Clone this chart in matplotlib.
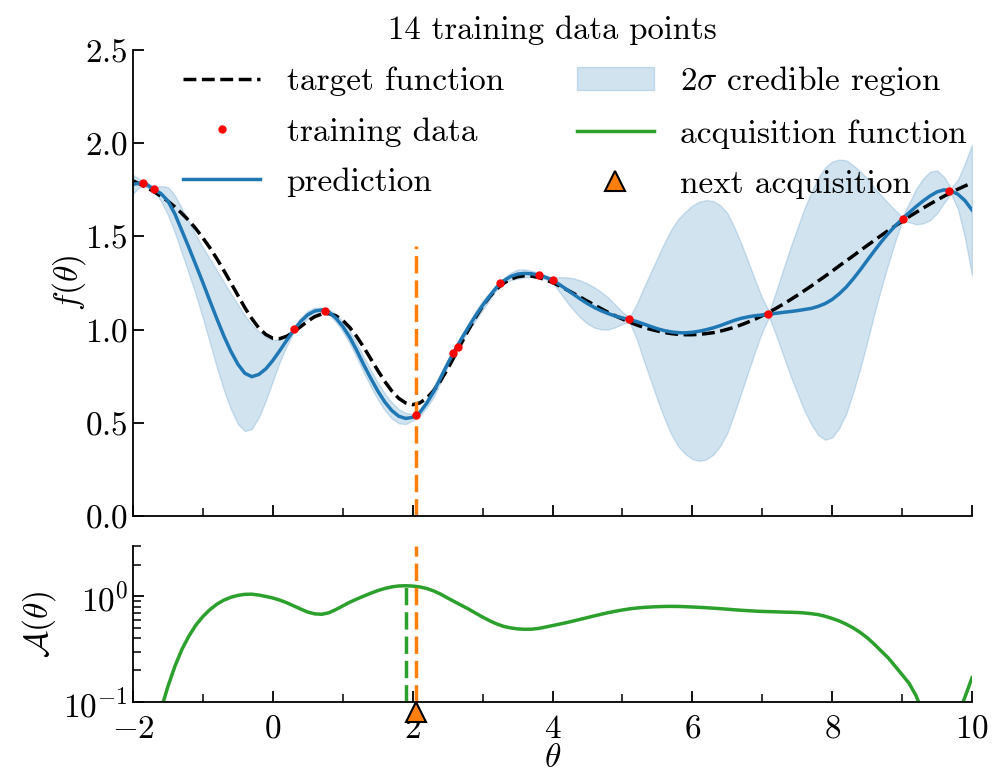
import numpy as np
import matplotlib
matplotlib.use("Agg")
from matplotlib import pyplot as plt
from matplotlib import transforms
from matplotlib.ticker import MultipleLocator, NullFormatter

# grid on which the GP posterior and the acquisition were evaluated
theta = np.linspace(-2, 10, 121)

target = [
    1.798, 1.781, 1.762, 1.740, 1.716, 1.689, 1.658, 1.623, 1.585, 1.541,
    1.492, 1.439, 1.380, 1.317, 1.251, 1.184, 1.118, 1.059, 1.009, 0.974,
    0.954, 0.952, 0.965, 0.988, 1.017, 1.046, 1.070, 1.084, 1.086, 1.075,
    1.050, 1.012, 0.963, 0.906, 0.844, 0.782, 0.723, 0.672, 0.632, 0.607,
    0.598, 0.607, 0.632, 0.673, 0.726, 0.790, 0.859, 0.930, 1.000, 1.066,
    1.126, 1.176, 1.218, 1.249, 1.271, 1.284, 1.289, 1.287, 1.280, 1.268,
    1.253, 1.235, 1.215, 1.195, 1.174, 1.153, 1.132, 1.112, 1.092, 1.074,
    1.057, 1.041, 1.026, 1.013, 1.002, 0.993, 0.985, 0.979, 0.975, 0.973,
    0.973, 0.975, 0.979, 0.984, 0.992, 1.002, 1.013, 1.026, 1.041, 1.057,
    1.075, 1.094, 1.115, 1.137, 1.160, 1.184, 1.209, 1.234, 1.261, 1.287,
    1.314, 1.342, 1.369, 1.396, 1.424, 1.451, 1.478, 1.505, 1.531, 1.556,
    1.581, 1.606, 1.629, 1.652, 1.674, 1.695, 1.716, 1.735, 1.754, 1.771,
    1.788,
]

mean = [
    1.780, 1.786, 1.777, 1.752, 1.730, 1.690, 1.620, 1.530, 1.440, 1.346,
    1.252, 1.154, 1.058, 0.966, 0.884, 0.815, 0.766, 0.748, 0.760, 0.790,
    0.835, 0.888, 0.944, 0.998, 1.045, 1.080, 1.100, 1.106, 1.095, 1.063,
    1.018, 0.960, 0.889, 0.812, 0.740, 0.672, 0.613, 0.567, 0.536, 0.524,
    0.530, 0.555, 0.605, 0.667, 0.742, 0.817, 0.888, 0.953, 1.015, 1.075,
    1.130, 1.180, 1.227, 1.262, 1.285, 1.298, 1.302, 1.300, 1.293, 1.281,
    1.266, 1.242, 1.216, 1.190, 1.164, 1.140, 1.119, 1.101, 1.086, 1.073,
    1.063, 1.054, 1.044, 1.031, 1.018, 1.005, 0.995, 0.988, 0.984, 0.983,
    0.986, 0.992, 1.000, 1.010, 1.022, 1.036, 1.050, 1.061, 1.069, 1.075,
    1.079, 1.083, 1.088, 1.093, 1.097, 1.102, 1.108, 1.114, 1.125, 1.140,
    1.162, 1.192, 1.228, 1.272, 1.320, 1.371, 1.421, 1.470, 1.515, 1.556,
    1.593, 1.627, 1.660, 1.690, 1.717, 1.739, 1.750, 1.744, 1.726, 1.692,
    1.642,
]

# half width of the 2 sigma band
two_sigma = [
    0.050, 0.020, 0.014, 0.012, 0.040, 0.075, 0.100, 0.120, 0.140, 0.160,
    0.190, 0.225, 0.260, 0.290, 0.310, 0.320, 0.310, 0.280, 0.230, 0.170,
    0.110, 0.060, 0.030, 0.012, 0.018, 0.022, 0.018, 0.012, 0.013, 0.020,
    0.028, 0.034, 0.039, 0.042, 0.044, 0.045, 0.045, 0.043, 0.038, 0.030,
    0.018, 0.016, 0.024, 0.028, 0.024, 0.016, 0.012, 0.013, 0.020, 0.025,
    0.025, 0.020, 0.014, 0.013, 0.020, 0.024, 0.022, 0.016, 0.012, 0.012,
    0.012, 0.040, 0.065, 0.085, 0.100, 0.108, 0.108, 0.100, 0.085, 0.060,
    0.032, 0.012, 0.090, 0.190, 0.285, 0.380, 0.470, 0.550, 0.610, 0.650,
    0.680, 0.695, 0.695, 0.680, 0.645, 0.590, 0.500, 0.400, 0.295, 0.190,
    0.090, 0.015, 0.120, 0.230, 0.340, 0.440, 0.540, 0.620, 0.690, 0.730,
    0.740, 0.720, 0.680, 0.610, 0.530, 0.440, 0.340, 0.250, 0.165, 0.085,
    0.012, 0.050, 0.095, 0.120, 0.130, 0.115, 0.070, 0.015, 0.080, 0.200,
    0.350,
]

acquisition = [
    0.010, 0.015, 0.025, 0.045, 0.085, 0.141, 0.219, 0.316, 0.422, 0.537,
    0.646, 0.750, 0.845, 0.923, 0.982, 1.023, 1.047, 1.050, 1.030, 1.000,
    0.966, 0.923, 0.871, 0.813, 0.759, 0.711, 0.684, 0.678, 0.700, 0.750,
    0.813, 0.881, 0.944, 1.007, 1.072, 1.135, 1.189, 1.230, 1.256, 1.262,
    1.253, 1.230, 1.189, 1.127, 1.052, 0.966, 0.891, 0.822, 0.759, 0.695,
    0.638, 0.589, 0.550, 0.521, 0.504, 0.493, 0.489, 0.490, 0.498, 0.513,
    0.530, 0.547, 0.565, 0.586, 0.608, 0.631, 0.655, 0.679, 0.703, 0.724,
    0.745, 0.762, 0.776, 0.787, 0.794, 0.800, 0.804, 0.805, 0.804, 0.800,
    0.794, 0.789, 0.782, 0.774, 0.766, 0.757, 0.748, 0.740, 0.733, 0.726,
    0.721, 0.718, 0.715, 0.711, 0.708, 0.705, 0.698, 0.687, 0.673, 0.649,
    0.619, 0.586, 0.547, 0.504, 0.457, 0.407, 0.355, 0.305, 0.263, 0.219,
    0.182, 0.151, 0.115, 0.079, 0.050, 0.032, 0.025, 0.040, 0.076, 0.112,
    0.170,
]

train_x = [-1.85, -1.70, 0.30, 0.75, 2.05, 2.58, 2.65, 3.25, 3.80, 4.00,
           5.10, 7.08, 9.01, 9.67]
train_y = [1.785, 1.753, 1.002, 1.100, 0.542, 0.876, 0.908, 1.248, 1.293, 1.266,
           1.055, 1.082, 1.593, 1.744]

next_theta = 2.05

plt.rcParams.update({
    "font.family": "cmr10",
    "mathtext.fontset": "cm",
    "axes.formatter.use_mathtext": True,
    "font.size": 24,
    "axes.linewidth": 1.3,
    "xtick.direction": "in",
    "ytick.direction": "in",
    "xtick.major.size": 8,
    "ytick.major.size": 8,
    "xtick.minor.size": 5.5,
    "ytick.minor.size": 5.5,
    "xtick.major.width": 1.3,
    "ytick.major.width": 1.3,
    "xtick.minor.width": 1.1,
    "ytick.minor.width": 1.1,
    "xtick.major.pad": 9,
})

mean = np.array(mean)
two_sigma = np.array(two_sigma)
acquisition = np.array(acquisition)

fig = plt.figure(figsize=(10, 7.75), dpi=100)
ax = fig.add_axes([0.133, 0.334, 0.839, 0.6015])
ax2 = fig.add_axes([0.133, 0.094, 0.839, 0.2015], sharex=ax)

# posterior of the surrogate
band = ax.fill_between(theta, mean - two_sigma, mean + two_sigma, color="C0",
                       alpha=0.2, label=r"$2\sigma$ credible region")
l_target, = ax.plot(theta, target, "k--", lw=2.5, label="target function")
l_train, = ax.plot(train_x, train_y, "o", color="red", ms=5, zorder=5,
                   label="training data")
l_mean, = ax.plot(theta, mean, color="C0", lw=2.5, label="prediction")
ax.axvline(next_theta, ymax=0.58, color="C1", ls="--", lw=2.5, dashes=(5, 2))

# acquisition function
best = np.argmax(acquisition)
l_acq, = ax2.semilogy(theta, acquisition, color="C2", lw=2.5,
                      label="acquisition function")
ax2.vlines(theta[best], 0.1, acquisition[best], color="C2", lw=2.5,
           linestyles=(0, (5, 2)))
ax2.axvline(next_theta, color="C1", ls="--", lw=2.5, dashes=(5, 2))
trans = transforms.blended_transform_factory(ax2.transData, ax2.transAxes)
l_next, = ax2.plot([next_theta], [-0.065], "^", color="C1", mec="k", mew=1.5,
                   ms=14, transform=trans, clip_on=False, zorder=10,
                   label="next acquisition")

handles = [l_target, l_train, l_mean, band, l_acq, l_next]
ax.legend(handles, [h.get_label() for h in handles], ncol=2, loc="upper center",
          bbox_to_anchor=(0.527, 1.012), frameon=False, handlelength=2.3,
          columnspacing=2.2, labelspacing=0.62, borderaxespad=0.2)

ax.set_xlim(-2, 10)
ax.set_ylim(0, 2.5)
ax.set_title("14 training data points", fontsize=23.5, pad=8)
ax.set_ylabel(r"$f(\theta)$", labelpad=-2)
ax.tick_params(labelbottom=False)
ax.xaxis.set_major_locator(MultipleLocator(2))
ax.xaxis.set_minor_locator(MultipleLocator(1))
ax.yaxis.set_major_locator(MultipleLocator(0.5))

ax2.set_ylim(0.1, 3)
ax2.yaxis.set_minor_formatter(NullFormatter())
ax2.set_ylabel(r"$\mathcal{A}(\theta)$")
ax2.set_xlabel(r"$\theta$", labelpad=0)

for a in (ax, ax2):
    a.spines["top"].set_visible(False)
    a.spines["right"].set_visible(False)

fig.savefig("out.png", dpi=100)
